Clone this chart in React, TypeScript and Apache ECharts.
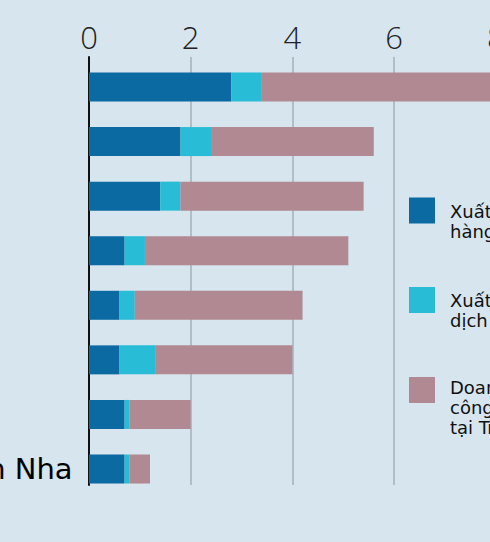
import React, { useEffect, useRef } from "react";
import * as echarts from "echarts";

const countries = ["Đức", "Anh", "Pháp", "Hà Lan", "Ý", "Áo", "Bỉ", "Tây Ban Nha"];
const goodsExports = [2.8, 1.8, 1.4, 0.7, 0.6, 0.6, 0.7, 0.7];
const servicesExports = [0.6, 0.6, 0.4, 0.4, 0.3, 0.7, 0.1, 0.1];
const subsidiarySales = [5.4, 3.2, 3.6, 4.0, 3.3, 2.7, 1.2, 0.4];
const xMin = 0;
const xMax = 10;
const xInterval = 2;
const legendLabels = [
  "Xuất khẩu\nhàng hóa",
  "Xuất khẩu\ndịch vụ",
  "Doanh thu của\ncông ty con\ntại Trung Quốc",
];

const BG = "#d6e5ee";
const COLORS = ["#0b6aa2", "#29bcd6", "#b08992"];
const OFF = 300;
const W = 1100;
const H = 542;

export default function App() {
  const ref = useRef<HTMLDivElement>(null);
  useEffect(() => {
    if (!ref.current) return;
    const chart = echarts.init(ref.current, undefined, { renderer: "svg" });
    const gridLeft = 89 + OFF;
    const gridW = 50.85 * (xMax - xMin);
    const gridRight = W - gridLeft - gridW;
    const squareTops = [197.5, 287, 377];
    const textTops = [201, 290.5, 377];
    const graphic: any[] = [];
    legendLabels.forEach((t, i) => {
      graphic.push({
        type: "rect",
        shape: { x: 409 + OFF, y: squareTops[i], width: 26, height: 26 },
        style: { fill: COLORS[i] },
      });
      graphic.push({
        type: "text",
        x: 450 + OFF,
        y: textTops[i],
        style: {
          text: t,
          fontSize: 18,
          fontFamily: "DejaVu Sans",
          fill: "#111",
          lineHeight: 20,
          verticalAlign: "top",
        },
      });
    });
    const names = ["Xuất khẩu hàng hóa", "Xuất khẩu dịch vụ", "Doanh thu của công ty con tại Trung Quốc"];
    const datas = [goodsExports, servicesExports, subsidiarySales];
    chart.setOption({
      animation: false,
      backgroundColor: BG,
      grid: [
        { left: gridLeft, right: gridRight, top: 57, height: 428 },
        { left: gridLeft, right: gridRight, top: 59.7, height: 436.6 },
      ],
      xAxis: [
        {
          type: "value",
          gridIndex: 0,
          position: "top",
          min: xMin,
          max: xMax,
          interval: xInterval,
          axisLine: { show: false },
          axisTick: { show: false },
          axisLabel: {
            fontSize: 31,
            fontFamily: "Open Sans",
            fontWeight: 300,
            color: "#222",
            margin: 5,
          },
          splitLine: { show: true, lineStyle: { color: "#a4b0b8", width: 1.5 } },
        },
        {
          type: "value",
          gridIndex: 1,
          min: xMin,
          max: xMax,
          show: false,
        },
      ],
      yAxis: [
        {
          type: "value",
          gridIndex: 0,
          min: 0,
          max: 1,
          axisLine: { show: true, onZero: false, lineStyle: { color: "#111", width: 2 } },
          axisTick: { show: false },
          axisLabel: { show: false },
          splitLine: { show: false },
        },
        {
          type: "category",
          gridIndex: 1,
          inverse: true,
          data: countries,
          axisLine: { show: false },
          axisTick: { show: false },
          axisLabel: {
            fontSize: 29,
            fontFamily: "DejaVu Sans",
            color: "#000",
            align: "left",
            margin: 198,
          },
          splitLine: { show: false },
        },
      ],
      series: datas.map((d, i) => ({
        type: "bar",
        name: names[i],
        stack: "total",
        xAxisIndex: 1,
        yAxisIndex: 1,
        barWidth: 29,
        data: d,
        itemStyle: { color: COLORS[i] },
      })),
      graphic,
    });
    return () => chart.dispose();
  }, []);
  return (
    <div
      style={{
        position: "fixed",
        left: 0,
        top: 0,
        width: 490,
        height: H,
        overflow: "hidden",
        background: BG,
      }}
    >
      <div ref={ref} style={{ position: "absolute", left: -OFF, top: 0, width: W, height: H }} />
    </div>
  );
}
